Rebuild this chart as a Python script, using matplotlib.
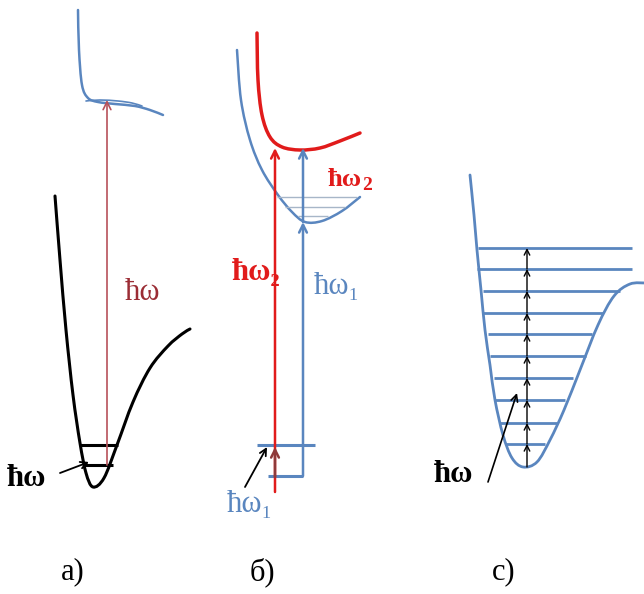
import numpy as np
import matplotlib
matplotlib.use("Agg")
import matplotlib.pyplot as plt
from matplotlib.path import Path
from matplotlib.patches import PathPatch

# ---------------- data (pixel-space control points of the diagram) ----------------
# panel a
a_ground_x = [55, 60, 66, 73, 80, 86, 93, 104, 117, 133, 150, 168, 182, 190]
a_ground_y = [196, 260, 330, 395, 443, 473, 487, 478, 445, 402, 368, 346, 334, 329]
a_excited_x = [78, 79, 82, 88, 98, 115, 135, 150, 163]
a_excited_y = [10, 50, 85, 98, 102, 104, 106, 110, 115]
a_excited2_x = [86, 100, 118, 132, 142]
a_excited2_y = [101, 100, 101, 103, 106]
a_levels_y = [445, 465]
a_levels_x0 = [80, 84]
a_levels_x1 = [118, 113]

# panel b
b_red_x = [257, 258, 262, 270, 282, 300, 320, 340, 360]
b_red_y = [33, 80, 115, 137, 147, 150, 148, 141, 133]
b_blue_x = [237, 241, 250, 262, 278, 292, 305, 322, 342, 360]
b_blue_y = [50, 100, 140, 170, 195, 212, 222, 221, 211, 197]
b_thin_y = [197, 207, 216]
b_thin_x0 = [277, 285, 298]
b_thin_x1 = [357, 345, 328]
b_levels_y = [445, 476]
b_levels_x0 = [257, 268]
b_levels_x1 = [315, 303]

# panel c
c_curve_x = [470, 474, 477, 481, 485, 490, 495, 503, 512, 523, 537, 550, 564, 580, 598, 614, 630, 646]
c_curve_y = [175, 215, 250, 290, 330, 365, 400, 435, 458, 467, 462, 440, 410, 370, 325, 296, 284, 283]
c_levels_y = [248, 269, 291, 313, 334, 356, 378, 400, 423, 444]
c_levels_x0 = [478, 477, 483, 483, 488, 490, 494, 494, 500, 505]
c_levels_x1 = [632, 632, 620, 603, 592, 586, 573, 565, 557, 545]
c_min_y = 467

panel_labels = ["a)", "б)", "c)"]
panel_label_x = [73, 262, 504]

# ---------------- colours ----------------
BLUE = "#5a86bf"
RED = "#e11b1b"
DARKRED = "#9b2d35"
AREDLINE = "#b8525a"
BROWN = "#8e3a3a"
THIN = "#a7b6c8"

W, H = 644, 594
fig = plt.figure(figsize=(W / 100, H / 100), dpi=100)
ax = fig.add_axes([0, 0, 1, 1])
ax.set_xlim(0, W)
ax.set_ylim(H, 0)
ax.axis("off")

SERIF = ["Liberation Serif", "DejaVu Serif"]


def smooth(xs, ys, color, lw, z=2):
    P = np.column_stack([xs, ys]).astype(float)
    n = len(P)
    verts = [P[0]]
    codes = [Path.MOVETO]
    for i in range(n - 1):
        p0 = P[i - 1] if i > 0 else P[i]
        p1 = P[i]
        p2 = P[i + 1]
        p3 = P[i + 2] if i + 2 < n else P[i + 1]
        verts += [p1 + (p2 - p0) / 6, p2 - (p3 - p1) / 6, p2]
        codes += [Path.CURVE4] * 3
    ax.add_patch(PathPatch(Path(verts, codes), fill=False, edgecolor=color,
                           lw=lw, capstyle="round", joinstyle="round", zorder=z))


def arrow(x0, y0, x1, y1, color, lw, ms=12, z=4):
    ax.annotate("", xy=(x1, y1), xytext=(x0, y0),
                arrowprops=dict(arrowstyle="->", color=color, lw=lw,
                                shrinkA=0, shrinkB=0, mutation_scale=ms),
                zorder=z)


def hlines(ys, x0s, x1s, color, lw):
    for y, a, b in zip(ys, x0s, x1s):
        ax.plot([a, b], [y, y], color=color, lw=lw, solid_capstyle="butt", zorder=3)


# ---------------- panel a ----------------
smooth(a_ground_x, a_ground_y, "black", 2.2)
smooth(a_excited_x, a_excited_y, BLUE, 1.8)
smooth(a_excited2_x, a_excited2_y, BLUE, 1.2)
hlines(a_levels_y, a_levels_x0, a_levels_x1, "black", 2.2)
arrow(107, 465, 107, 100, AREDLINE, 1.2, ms=14)
arrow(60, 473, 89, 462, "black", 1.3, ms=12)
ax.text(142, 292, "ħω", color=DARKRED, fontsize=22, family=SERIF,
        ha="center", va="center")
ax.text(27, 478, "ħω", color="black", fontsize=22, family=SERIF,
        fontweight="bold", ha="center", va="center")

# ---------------- panel b ----------------
smooth(b_blue_x, b_blue_y, BLUE, 1.8)
smooth(b_red_x, b_red_y, RED, 2.5, z=3)
hlines(b_thin_y, b_thin_x0, b_thin_x1, THIN, 1.0)
hlines(b_levels_y, b_levels_x0, b_levels_x1, BLUE, 2.2)
arrow(275, 492, 275, 148, RED, 1.8, ms=14)
arrow(303, 476, 303, 222, BLUE, 1.8, ms=14)
arrow(303, 222, 303, 148, BLUE, 1.8, ms=14)
arrow(275, 477, 275, 447, BROWN, 1.8, ms=14, z=5)
arrow(245, 487, 267, 447, "black", 1.3, ms=12)
ax.text(256, 272, "ħω₂", color=RED, fontsize=22, family=SERIF,
        fontweight="bold", ha="center", va="center")
ax.text(337, 286, "ħω₁", color=BLUE, fontsize=22, family=SERIF,
        ha="center", va="center")
ax.text(345, 180, "ħω", color=RED, fontsize=19, family=SERIF,
        fontweight="bold", ha="center", va="center")
ax.text(367, 186, "2", color=RED, fontsize=14, family=SERIF,
        fontweight="bold", ha="center", va="center")
ax.text(250, 505, "ħω₁", color=BLUE, fontsize=22, family=SERIF,
        ha="center", va="center")

# ---------------- panel c ----------------
smooth(c_curve_x, c_curve_y, BLUE, 2.0)
hlines(c_levels_y, c_levels_x0, c_levels_x1, BLUE, 2.0)
steps = [c_min_y] + c_levels_y[::-1]
for y0, y1 in zip(steps[:-1], steps[1:]):
    arrow(527, y0, 527, y1, "black", 1.0, ms=10)
arrow(488, 482, 517, 393, "black", 1.2, ms=12)
ax.text(454, 474, "ħω", color="black", fontsize=22, family=SERIF,
        fontweight="bold", ha="center", va="center")

# ---------------- panel labels ----------------
for lab, x in zip(panel_labels, panel_label_x):
    ax.text(x, 572, lab, color="black", fontsize=22, family=SERIF,
            ha="center", va="center")

fig.savefig("out.png", dpi=100, facecolor="white")
